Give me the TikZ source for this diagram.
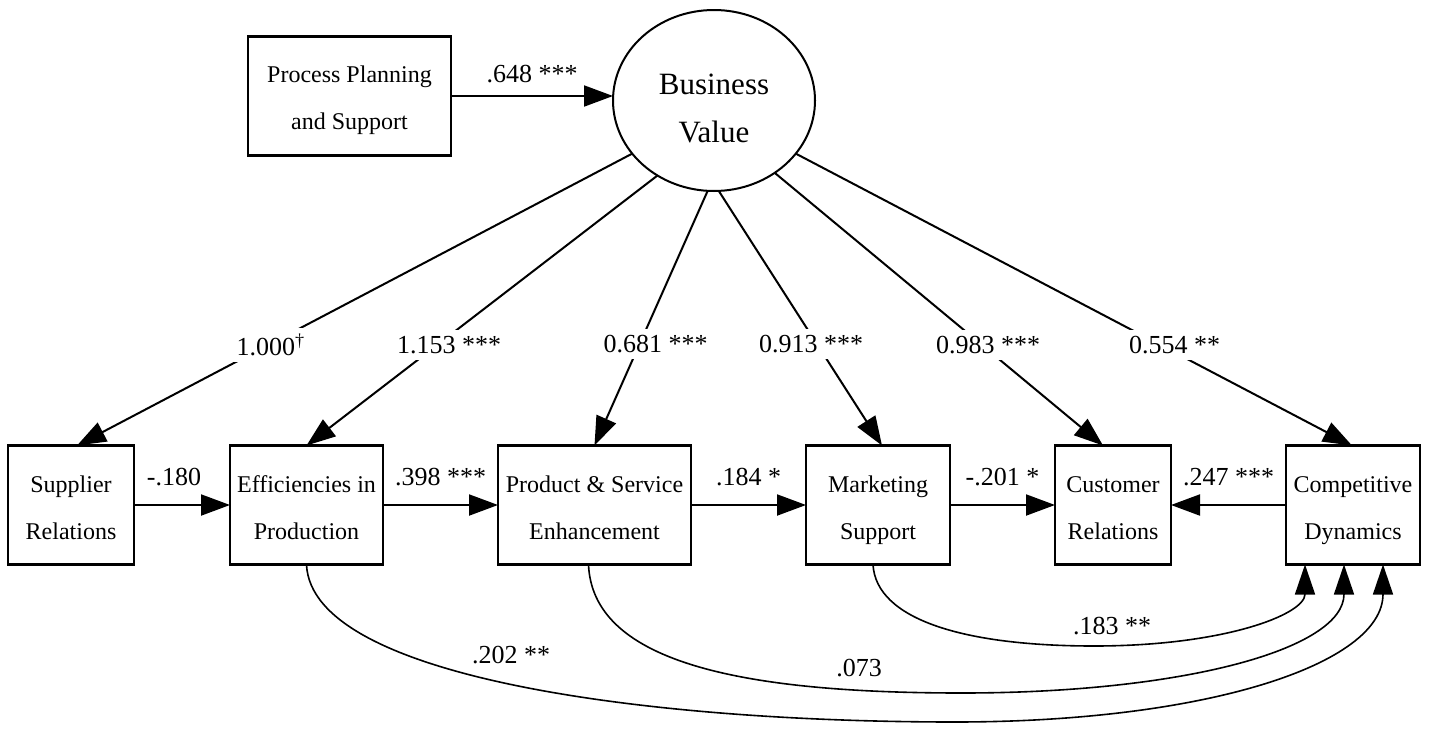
\documentclass[tikz,border=0pt]{standalone}
\usepackage{fontspec}
\setmainfont{Liberation Serif}
\usetikzlibrary{arrows.meta,shapes.geometric}
\begin{document}
\begin{tikzpicture}[x=0.5pt,y=-0.5pt,
  box/.style={draw, rectangle, line width=1.1pt, inner sep=0pt, outer sep=0pt, minimum height=59.5pt},
  btxt/.style={anchor=base, inner sep=0pt, font=\fontsize{12}{14}\selectfont},
  bvtxt/.style={anchor=base, inner sep=0pt, font=\fontsize{15.5}{18}\selectfont},
  lbl/.style={inner sep=0pt, font=\fontsize{13}{15}\selectfont},
  dlbl/.style={fill=white, inner sep=3pt, font=\fontsize{13}{15}\selectfont},
  arr/.style={line width=1pt, -{Triangle[length=14.5pt,width=10.5pt]}},
  curv/.style={line width=0.8pt, -{Triangle[length=15pt,width=10pt]}},
]
\useasboundingbox (0,0) rectangle (1431,734);

% top
\node[box, minimum width=101.5pt] (ppb) at (349.5,96) {};
\node[btxt] (ppt1) at (349.5,82) {Process Planning};
\node[btxt] (ppt2) at (349.5,129) {and Support};

\node[draw, ellipse, line width=1pt, minimum width=101pt, minimum height=90.5pt, inner sep=0pt, outer sep=0pt] (bv) at (714,100.5) {};
\node[bvtxt] (bvt1) at (714,94) {Business};
\node[bvtxt] (bvt2) at (714,142) {Value};

% bottom boxes
\node[box, minimum width=63pt] (sr) at (71,505) {};
\node[btxt] (srt1) at (71,492) {Supplier};
\node[btxt] (srt2) at (71,539) {Relations};

\node[box, minimum width=76.5pt] (eff) at (306.5,505) {};
\node[btxt] (efft1) at (306.5,492) {Efficiencies in};
\node[btxt] (efft2) at (306.5,539) {Production};

\node[box, minimum width=96.5pt] (pse) at (594.5,505) {};
\node[btxt] (pset1) at (594.5,492) {Product \& Service};
\node[btxt] (pset2) at (594.5,539) {Enhancement};

\node[box, minimum width=72pt] (ms) at (878,505) {};
\node[btxt] (mst1) at (878,492) {Marketing};
\node[btxt] (mst2) at (878,539) {Support};

\node[box, minimum width=58pt] (cr) at (1113,505) {};
\node[btxt] (crt1) at (1113,492) {Customer};
\node[btxt] (crt2) at (1113,539) {Relations};

\node[box, minimum width=67pt] (cd) at (1353,505) {};
\node[btxt] (cdt1) at (1353,492) {Competitive};
\node[btxt] (cdt2) at (1353,539) {Dynamics};

% top arrow
\draw[arr] (ppb.east) -- (ppb.east -| bv.west) node[lbl, midway, anchor=base, yshift=7pt] {.648 ***};

% loadings
\draw[arr] (bv.213.7) -- ([xshift=3pt]sr.north) node[dlbl, pos=0.656, xshift=1.5pt] {1.000\textsuperscript{\textdagger}};
\draw[arr] (bv.233.6) -- (eff.north) node[dlbl, pos=0.628, xshift=6pt] {1.153 ***};
\draw[arr] (bv.266.9) -- (pse.north) node[dlbl, pos=0.602, xshift=8pt] {0.681 ***};
\draw[arr] (bv.273.7) -- ([xshift=2pt]ms.north) node[dlbl, pos=0.602, xshift=-3pt] {0.913 ***};
\draw[arr] (bv.310) -- ([xshift=-5pt]cr.north) node[dlbl, pos=0.632, xshift=3pt] {0.983 ***};
\draw[arr] (bv.327.3) -- ([xshift=-0.5pt]cd.north) node[dlbl, pos=0.656, xshift=7pt] {0.554 **};

% horizontal paths
\draw[arr] (sr.east) -- (eff.west) node[lbl, midway, anchor=base, yshift=10pt, xshift=-4pt] {-.180};
\draw[arr] (eff.east) -- (pse.west) node[lbl, midway, anchor=base, yshift=10pt] {.398 ***};
\draw[arr] (pse.east) -- (ms.west) node[lbl, midway, anchor=base, yshift=10pt] {.184 *};
\draw[arr] (ms.east) -- (cr.west) node[lbl, midway, anchor=base, yshift=10pt] {-.201 *};
\draw[arr] (cd.west) -- (cr.east) node[lbl, midway, anchor=base, yshift=10pt] {.247 ***};

% curved paths
\coordinate (c1b) at (955,722);
\coordinate (c2b) at (962,693);
\coordinate (c3b) at (1094,646);
\draw[curv] (eff.south) .. controls +(5,115) and +(-300,0) .. (c1b) .. controls +(250,0) and +(0,100) .. ([xshift=15pt]cd.south);
\draw[curv] ([xshift=-3pt]pse.south) .. controls +(4,95) and +(-230,0) .. (c2b) .. controls +(220,0) and +(0,85) .. ([xshift=-4.5pt]cd.south);
\draw[curv] ([xshift=-2.5pt]ms.south) .. controls +(3,55) and +(-130,0) .. (c3b) .. controls +(130,0) and +(0,50) .. ([xshift=-24pt]cd.south);

\node[lbl] (l202) at (511,655) {.202 **};
\node[lbl] (l073) at (859,668) {.073};
\node[lbl] (l183) at (1112,626) {.183 **};
\end{tikzpicture}
\end{document}
